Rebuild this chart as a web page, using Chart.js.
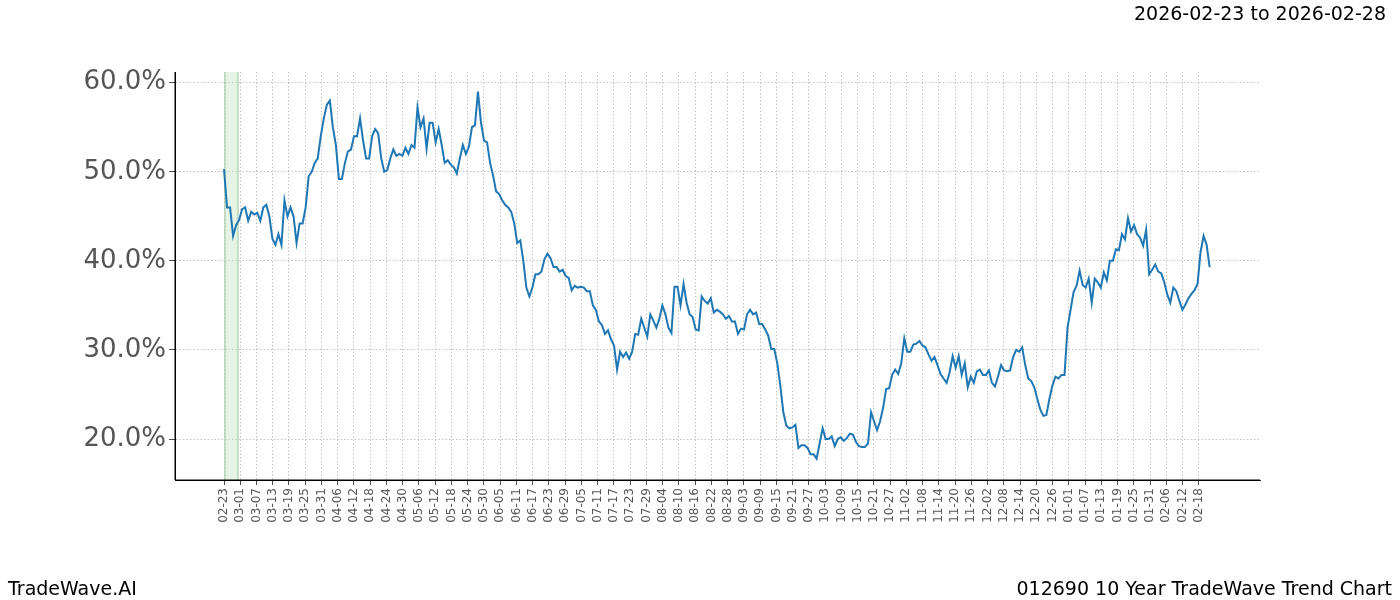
<!DOCTYPE html>
<html><head><meta charset="utf-8">
<script src="https://cdn.jsdelivr.net/npm/chart.js@4"></script>
<style>body{margin:0;background:#fff;font-family:"DejaVu Sans",sans-serif}
#t{position:absolute;top:2px;right:14px;font-size:19px;color:#000}
#bl{position:absolute;top:577px;left:8px;font-size:19px}
#br{position:absolute;top:577px;right:8px;font-size:19px}
canvas{position:absolute;left:0;top:0}</style></head>
<body><canvas id="c" width="1400" height="600"></canvas>
<div id="t">2026-02-23 to 2026-02-28</div><div id="bl">TradeWave.AI</div><div id="br">012690 10 Year TradeWave Trend Chart</div>
<script>
const tickLabels=["02-23","03-01","03-07","03-13","03-19","03-25","03-31","04-06","04-12","04-18","04-24","04-30","05-06","05-12","05-18","05-24","05-30","06-05","06-11","06-17","06-23","06-29","07-05","07-11","07-17","07-23","07-29","08-04","08-10","08-16","08-22","08-28","09-03","09-09","09-15","09-21","09-27","10-03","10-09","10-15","10-21","10-27","11-02","11-08","11-14","11-20","11-26","12-02","12-08","12-14","12-20","12-26","01-01","01-07","01-13","01-19","01-25","01-31","02-06","02-12","02-18"];
const trendValues=[50.3,46,46,42.8,44,44.6,45.8,46,44.5,45.5,45.2,45.4,44.5,46,46.3,45,42.5,41.8,43,41.8,46.8,45,46,45,42,44.2,44.2,46,49.5,50,51,51.5,54,56,57.5,58,55,53,49.2,49.2,51,52.3,52.5,54,54,56,53.5,51.5,51.5,54,54.8,54.3,51.5,50,50.2,51.5,52.5,51.8,52,51.8,52.7,52,53,52.7,57.2,55,56,52.6,55.5,55.5,53.3,54.8,53,51,51.3,50.8,50.5,49.8,51.5,53,52,52.8,55,55.2,59,55.5,53.5,53.3,51,49.6,47.8,47.5,46.8,46.3,46,45.5,44.2,42,42.3,40,37,36,37,38.5,38.5,38.8,40.2,40.8,40.3,39.3,39.3,38.8,39,38.3,38.1,36.7,37.2,37,37.1,37,36.6,36.6,35,34.5,33.2,32.8,31.8,32.2,31.2,30.5,27.8,29.8,29.2,29.7,29,29.8,31.8,31.7,33.5,32.5,31.5,34,33.3,32.5,33.5,35,34,32.5,31.9,37.1,37.1,35,37.4,35.3,34,33.7,32.3,32.2,36,35.5,35.2,35.8,34.2,34.5,34.3,34,33.5,33.8,33.2,33.2,31.8,32.4,32.3,34,34.5,34,34.2,32.9,32.9,32.3,31.6,30.1,30.1,28.5,26,23,21.5,21.2,21.3,21.6,19,19.3,19.3,19,18.3,18.3,17.8,19.5,21.2,20,20,20.3,19.2,20,20.2,19.8,20.1,20.6,20.5,19.7,19.2,19.1,19.1,19.5,23,22,21,22,23.5,25.6,25.7,27.2,27.8,27.3,28.5,31.3,29.8,29.8,30.6,30.7,31,30.5,30.3,29.5,28.8,29.2,28.3,27.3,26.8,26.3,27.5,29.3,28,29.3,27.2,28.5,25.8,27,26.3,27.6,27.8,27.2,27.2,27.7,26.3,25.9,27,28.3,27.7,27.6,27.7,29.2,30,29.8,30.3,28.3,26.8,26.5,25.8,24.5,23.3,22.6,22.7,24.5,26,27,26.8,27.2,27.2,32.5,34.5,36.5,37.2,38.9,37.3,37,38,35.3,38,37.6,37,38.7,37.8,40,40,41.3,41.2,43,42.4,44.8,43.3,44,43,42.6,41.7,43.5,38.5,39,39.6,38.8,38.6,37.6,36.2,35.3,37,36.6,35.5,34.5,35.1,35.8,36.3,36.7,37.4,41,42.8,41.8,39.3];
const spanDays=364, highlightStart=0, highlightEnd=5.5;
const pts=trendValues.map((v,i)=>({x:i*spanDays/(trendValues.length-1),y:v}));
const shade={id:'shade',beforeDatasetsDraw(ch){const{ctx,chartArea:a,scales:{x}}=ch;const x0=x.getPixelForValue(highlightStart),x1=x.getPixelForValue(highlightEnd);ctx.save();ctx.fillStyle='rgba(200,230,200,0.45)';ctx.fillRect(x0,a.top,x1-x0,a.bottom-a.top);ctx.fillStyle='rgba(150,190,150,0.4)';ctx.fillRect(x0,a.top,2,a.bottom-a.top);ctx.fillRect(x1-2,a.top,2,a.bottom-a.top);ctx.restore();}};
new Chart(document.getElementById('c'),{type:'line',data:{datasets:[{data:pts,borderColor:'#1f77b4',borderWidth:2,pointRadius:0,tension:0}]},
options:{responsive:false,animation:false,layout:{padding:{top:72,right:140,left:0,bottom:0}},plugins:{legend:{display:false},tooltip:{enabled:false}},
scales:{x:{type:'linear',min:-18.1,max:382.6,afterFit(s){s.height=120},afterBuildTicks(s){s.ticks=tickLabels.map((l,i)=>({value:i*6}))},
ticks:{minRotation:90,maxRotation:90,autoSkip:false,color:'#555',font:{size:12,family:'DejaVu Sans'},callback:(v)=>tickLabels[Math.round(v/6)]},
grid:{color:'#aaa',lineWidth:0.7,tickLength:5,tickColor:'#000'},border:{color:'#000',dash:[1.5,2]}},
y:{min:15.4,max:61.2,afterFit(s){s.width=175},afterBuildTicks(s){s.ticks=[20,30,40,50,60].map(v=>({value:v}))},
ticks:{color:'#555',font:{size:26,family:'DejaVu Sans'},callback:v=>v.toFixed(1)+'%'},grid:{color:'#aaa',lineWidth:0.7,tickLength:6,tickColor:'#000'},border:{color:'#000',dash:[1.5,2]}}}},
plugins:[shade,{id:'spines',afterDraw(ch){const{ctx,chartArea:a}=ch;ctx.save();ctx.strokeStyle='#000';ctx.lineWidth=1;ctx.beginPath();ctx.moveTo(a.left,a.top);ctx.lineTo(a.left,a.bottom);ctx.lineTo(a.right,a.bottom);ctx.stroke();ctx.restore();}}]});
</script></body></html>
